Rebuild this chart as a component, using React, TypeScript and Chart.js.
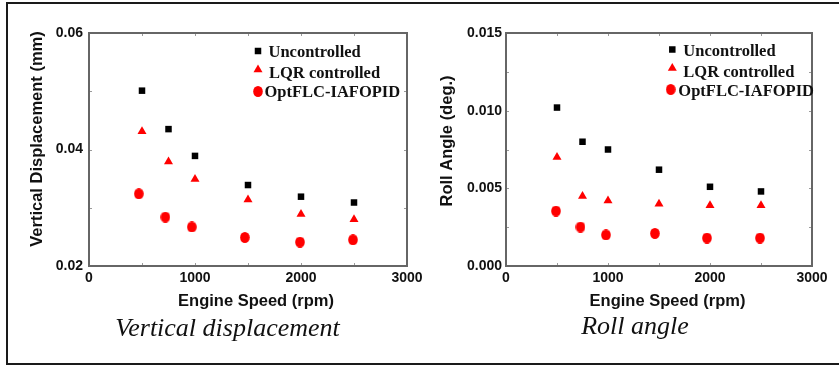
import React, { useEffect, useRef } from 'react';
import { Chart, registerables } from 'chart.js';

Chart.register(...registerables);

// ---------------- data ----------------
const engineSpeeds = [500, 750, 1000, 1500, 2000, 2500];
const optSpeedsVertical = [470, 720, 970, 1470, 1990, 2490];
const optSpeedsRoll = [490, 730, 980, 1460, 1970, 2490];

const verticalUncontrolled = [0.0501, 0.0435, 0.0389, 0.0339, 0.0319, 0.0309];
const verticalLQR = [0.0431, 0.0379, 0.0349, 0.0314, 0.0289, 0.0280];
const verticalOpt = [0.0324, 0.0284, 0.0267, 0.0249, 0.0241, 0.0245];

const rollUncontrolled = [0.0102, 0.0080, 0.0075, 0.0062, 0.0051, 0.0048];
const rollLQR = [0.0070, 0.0045, 0.0042, 0.0040, 0.0039, 0.0039];
const rollOpt = [0.00354, 0.00251, 0.0020, 0.0021, 0.0018, 0.0018];

const seriesNames = ['Uncontrolled', 'LQR controlled', 'OptFLC-IAFOPID'];
const xTickValues = [0, 1000, 2000, 3000];
const verticalTickValues = [0.02, 0.04, 0.06];
const rollTickValues = [0, 0.005, 0.01, 0.015];

const RED = '#ff0000';
const BLACK = '#000000';
const CANVAS_H = 320;

function makeEllipse(): HTMLCanvasElement {
  const c = document.createElement('canvas');
  c.width = 10;
  c.height = 11;
  const g = c.getContext('2d')!;
  g.fillStyle = RED;
  g.beginPath();
  g.ellipse(5, 5.5, 4.8, 5.5, 0, 0, Math.PI * 2);
  g.fill();
  return c;
}

function drawMarker(ctx: CanvasRenderingContext2D, kind: number, x: number, y: number, ell: HTMLCanvasElement) {
  ctx.save();
  if (kind === 0) {
    ctx.fillStyle = BLACK;
    ctx.fillRect(x - 3.25, y - 3.25, 6.5, 6.5);
  } else if (kind === 1) {
    ctx.fillStyle = RED;
    ctx.beginPath();
    ctx.moveTo(x, y - 4);
    ctx.lineTo(x + 4.5, y + 3.8);
    ctx.lineTo(x - 4.5, y + 3.8);
    ctx.closePath();
    ctx.fill();
  } else {
    ctx.drawImage(ell, x - ell.width / 2, y - ell.height / 2);
  }
  ctx.restore();
}

const decorPlugin = {
  id: 'decor',
  afterDraw(chart: any, _args: any, opts: any) {
    const { ctx, chartArea: a } = chart;
    const xs = chart.scales.x;
    const ys = chart.scales.y;
    ctx.save();
    // minor inward ticks
    ctx.strokeStyle = '#9a9a9a';
    ctx.lineWidth = 1;
    ctx.beginPath();
    for (let v = xs.min; v <= xs.max + 1e-9; v += (xs.max - xs.min) / 6) {
      const px = Math.round(xs.getPixelForValue(v)) + 0.5;
      ctx.moveTo(px, a.bottom);
      ctx.lineTo(px, a.bottom - 3);
      ctx.moveTo(px, a.top);
      ctx.lineTo(px, a.top + 3);
    }
    const ystep = (ys.max - ys.min) / opts.yMinorCount;
    for (let i = 0; i <= opts.yMinorCount; i++) {
      const v = ys.min + ystep * i;
      const py = Math.round(ys.getPixelForValue(v)) + 0.5;
      ctx.moveTo(a.left, py);
      ctx.lineTo(a.left + 3, py);
      ctx.moveTo(a.right, py);
      ctx.lineTo(a.right - 3, py);
    }
    ctx.stroke();
    // frame
    ctx.strokeStyle = '#666666';
    ctx.lineWidth = 2;
    ctx.strokeRect(a.left, a.top, a.right - a.left, a.bottom - a.top);

    // axis titles
    ctx.fillStyle = '#111111';
    ctx.font = 'bold 16.5px "Liberation Sans", Arial, sans-serif';
    ctx.textAlign = 'center';
    ctx.textBaseline = 'alphabetic';
    ctx.fillText(opts.xTitle, opts.xTitleX, opts.xTitleY);
    ctx.save();
    ctx.translate(opts.yTitleX, opts.yTitleY);
    ctx.rotate(-Math.PI / 2);
    ctx.textBaseline = 'middle';
    ctx.fillText(opts.yTitle, 0, 0);
    ctx.restore();

    // legend
    ctx.font = 'bold 16.5px "Liberation Serif", "Times New Roman", serif';
    ctx.textAlign = 'left';
    ctx.textBaseline = 'alphabetic';
    ctx.fillStyle = '#111111';
    chart.data.datasets.forEach((ds: any, i: number) => {
      const L = opts.legend[i];
      drawMarker(ctx, i, L.mx, L.my, opts.ellipse);
      ctx.fillText(ds.label, L.tx, L.ty);
    });
    ctx.restore();
  },
};

function buildConfig(p: any) {
  const tickFont = { family: '"Liberation Sans", Arial, sans-serif', size: 14, weight: 'bold' as const };
  return {
    type: 'scatter' as const,
    data: {
      datasets: [
        {
          label: seriesNames[0],
          data: engineSpeeds.map((x, i) => ({ x, y: p.s0[i] })),
          pointStyle: 'rect',
          pointRadius: 4.6,
          backgroundColor: BLACK,
          borderColor: BLACK,
          borderWidth: 0,
        },
        {
          label: seriesNames[1],
          data: engineSpeeds.map((x, i) => ({ x, y: p.s1[i] })),
          pointStyle: 'triangle',
          pointRadius: 5.2,
          backgroundColor: RED,
          borderColor: RED,
          borderWidth: 0,
        },
        {
          label: seriesNames[2],
          data: p.optX.map((x: number, i: number) => ({ x, y: p.s2[i] })),
          pointStyle: p.ellipse,
          pointRadius: 5.5,
          backgroundColor: RED,
          borderColor: RED,
          borderWidth: 0,
        },
      ],
    },
    options: {
      responsive: false,
      animation: false,
      events: [],
      layout: { padding: { top: 33, right: p.padRight, left: 0, bottom: 0 } },
      plugins: {
        legend: { display: false },
        tooltip: { enabled: false },
        decor: p.decor,
      },
      scales: {
        x: {
          type: 'linear',
          min: 0,
          max: 3000,
          afterBuildTicks: (s: any) => {
            s.ticks = xTickValues.map((v) => ({ value: v }));
          },
          afterFit: (s: any) => {
            s.height = CANVAS_H - 266;
          },
          ticks: { font: tickFont, color: '#111111', padding: 4, maxRotation: 0, autoSkip: false, callback: (v: any) => String(v) },
          grid: { display: false, drawTicks: false },
          border: { display: false },
        },
        y: {
          type: 'linear',
          min: p.yMin,
          max: p.yMax,
          afterBuildTicks: (s: any) => {
            s.ticks = p.yTicks.map((v: number) => ({ value: v }));
          },
          afterFit: (s: any) => {
            s.width = p.yWidth;
          },
          ticks: {
            font: tickFont,
            color: '#111111',
            padding: p.yPad,
            autoSkip: false,
            callback: (v: any) => Number(v).toFixed(p.decimals),
          },
          grid: { display: false, drawTicks: false },
          border: { display: false },
        },
      },
    },
    plugins: [decorPlugin],
  };
}

function ScatterPanel(props: { config: (ell: HTMLCanvasElement) => any; left: number }) {
  const ref = useRef<HTMLCanvasElement>(null);
  useEffect(() => {
    const ell = makeEllipse();
    const chart = new Chart(ref.current!, props.config(ell));
    return () => chart.destroy();
  }, []);
  return (
    <canvas
      ref={ref}
      width={440}
      height={CANVAS_H}
      style={{ position: 'absolute', left: props.left, top: 0, width: 440, height: CANVAS_H }}
    />
  );
}

const verticalConfig = (ell: HTMLCanvasElement) =>
  buildConfig({
    s0: verticalUncontrolled,
    s1: verticalLQR,
    s2: verticalOpt,
    optX: optSpeedsVertical,
    ellipse: ell,
    yMin: 0.02,
    yMax: 0.06,
    yTicks: verticalTickValues,
    decimals: 2,
    yWidth: 89,
    yPad: 6,
    padRight: 33,
    decor: {
      xTitle: 'Engine Speed (rpm)',
      yTitle: 'Vertical Displacement (mm)',
      xTitleX: 256,
      xTitleY: 306,
      yTitleX: 37,
      yTitleY: 139,
      yMinorCount: 4,
      ellipse: ell,
      legend: [
        { mx: 258, my: 51, tx: 268.5, ty: 56.5 },
        { mx: 258, my: 68.5, tx: 269, ty: 77.5 },
        { mx: 258, my: 91.5, tx: 264.5, ty: 97 },
      ],
    },
  });

const rollConfig = (ell: HTMLCanvasElement) =>
  buildConfig({
    s0: rollUncontrolled,
    s1: rollLQR,
    s2: rollOpt,
    optX: optSpeedsRoll,
    ellipse: ell,
    yMin: 0,
    yMax: 0.015,
    yTicks: rollTickValues,
    decimals: 3,
    yWidth: 86,
    yPad: 4,
    padRight: 48,
    decor: {
      xTitle: 'Engine Speed (rpm)',
      yTitle: 'Roll Angle (deg.)',
      xTitleX: 247.5,
      xTitleY: 305.5,
      yTitleX: 27.5,
      yTitleY: 141,
      yMinorCount: 6,
      ellipse: ell,
      legend: [
        { mx: 252.3, my: 49.5, tx: 263.3, ty: 55.5 },
        { mx: 252.3, my: 67, tx: 263.3, ty: 77.3 },
        { mx: 250.7, my: 89.5, tx: 258.3, ty: 95.7 },
      ],
    },
  });

const captionStyle: React.CSSProperties = {
  position: 'absolute',
  width: 300,
  textAlign: 'center',
  fontFamily: '"Liberation Serif", "Times New Roman", serif',
  fontStyle: 'italic',
  fontSize: 26,
  lineHeight: '26px',
  color: '#111111',
  whiteSpace: 'nowrap',
};

export default function App() {
  return (
    <div
      style={{
        position: 'fixed',
        left: 0,
        top: 0,
        width: 839,
        height: 367,
        overflow: 'hidden',
        background: '#ffffff',
      }}
    >
      <div
        style={{
          position: 'absolute',
          left: 6,
          top: 2,
          width: 1000,
          height: 363,
          boxSizing: 'border-box',
          borderLeft: '2px solid #1a1a1a',
          borderTop: '2px solid #1a1a1a',
          borderBottom: '2px solid #1a1a1a',
        }}
      />
      <ScatterPanel config={verticalConfig} left={0} />
      <ScatterPanel config={rollConfig} left={420} />
      <div style={{ ...captionStyle, left: 77.5, top: 315 }}>Vertical displacement</div>
      <div style={{ ...captionStyle, left: 485, top: 312.5 }}>Roll angle</div>
    </div>
  );
}
